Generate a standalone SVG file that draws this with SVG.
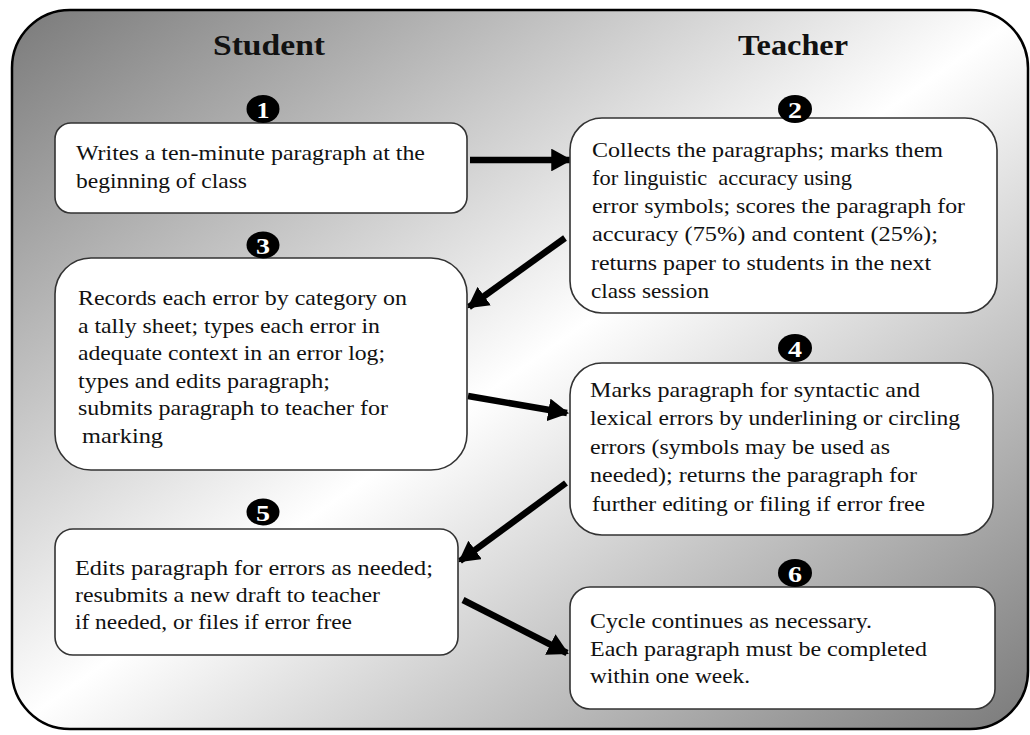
<svg xmlns="http://www.w3.org/2000/svg" width="1030" height="735" viewBox="0 0 1030 735">
<defs>
<linearGradient id="bg" x1="0" y1="0" x2="1" y2="1">
<stop offset="0" stop-color="#7a7a7a"/>
<stop offset="0.5" stop-color="#ffffff"/>
<stop offset="1" stop-color="#7a7a7a"/>
</linearGradient>
<marker id="ah" viewBox="0 0 10 10" refX="9" refY="5" markerWidth="3.2" markerHeight="3.5" orient="auto" markerUnits="strokeWidth" preserveAspectRatio="none">
<path d="M0,0 L10,5 L0,10 z" fill="#000"/>
</marker>
<style>
.box{fill:#fff;stroke:#333;stroke-width:1.6}
.t{font-family:"Liberation Serif","Times New Roman",serif;font-size:21px;fill:#111}
.h{font-family:"Liberation Serif","Times New Roman",serif;font-size:29px;font-weight:bold;fill:#111}
.num{fill:#000}
.nt{font-family:"Liberation Serif","Times New Roman",serif;font-size:24px;font-weight:bold;fill:#fff;text-anchor:middle}
.arr{stroke:#000;stroke-width:6.5;fill:none;marker-end:url(#ah)}
</style>
</defs>
<rect x="12" y="10" width="1016" height="719" rx="58" ry="58" fill="url(#bg)" stroke="#000" stroke-width="2.5"/>
<text class="h" x="213" y="55" textLength="112" lengthAdjust="spacingAndGlyphs">Student</text>
<text class="h" x="738" y="55" textLength="110" lengthAdjust="spacingAndGlyphs">Teacher</text>

<g id="connectors">
<line class="arr" x1="470" y1="160" x2="570" y2="160"/>
<line class="arr" x1="565" y1="238" x2="469" y2="307"/>
<line class="arr" x1="468" y1="396" x2="567" y2="413"/>
<line class="arr" x1="566" y1="483" x2="460" y2="561"/>
<line class="arr" x1="463" y1="600" x2="567" y2="653"/>
</g>

<g id="step1">
<rect class="box" x="55" y="123" width="412" height="90" rx="16"/>
<ellipse class="num" cx="263" cy="109" rx="16.5" ry="14"/>
<text class="nt" x="263" y="117.5" textLength="13" lengthAdjust="spacingAndGlyphs">1</text>
<text class="t" x="76" y="160" textLength="349" lengthAdjust="spacingAndGlyphs">Writes a ten-minute paragraph at the</text>
<text class="t" x="76" y="188" textLength="171" lengthAdjust="spacingAndGlyphs">beginning of class</text>
</g>

<g id="step2">
<rect class="box" x="570" y="118" width="427" height="195" rx="32"/>
<ellipse class="num" cx="795" cy="109" rx="17" ry="14"/>
<text class="nt" x="795" y="117.5" textLength="14" lengthAdjust="spacingAndGlyphs">2</text>
<text class="t" x="592" y="157" textLength="351" lengthAdjust="spacingAndGlyphs">Collects the paragraphs; marks them</text>
<text class="t" x="592" y="185" textLength="260" lengthAdjust="spacingAndGlyphs" xml:space="preserve">for linguistic  accuracy using</text>
<text class="t" x="592" y="213" textLength="373" lengthAdjust="spacingAndGlyphs">error symbols; scores the paragraph for</text>
<text class="t" x="592" y="241" textLength="346" lengthAdjust="spacingAndGlyphs">accuracy (75%) and content (25%);</text>
<text class="t" x="591" y="270" textLength="340" lengthAdjust="spacingAndGlyphs">returns paper to students in the next</text>
<text class="t" x="591" y="298" textLength="118" lengthAdjust="spacingAndGlyphs">class session</text>
</g>

<g id="step3">
<rect class="box" x="55" y="258" width="412" height="212" rx="36"/>
<ellipse class="num" cx="263" cy="245" rx="16.5" ry="13.5"/>
<text class="nt" x="263" y="253.5" textLength="14" lengthAdjust="spacingAndGlyphs">3</text>
<text class="t" x="78" y="305" textLength="329" lengthAdjust="spacingAndGlyphs">Records each error by category on</text>
<text class="t" x="78" y="333" textLength="302" lengthAdjust="spacingAndGlyphs">a tally sheet; types each error in</text>
<text class="t" x="78" y="360" textLength="307" lengthAdjust="spacingAndGlyphs">adequate context in an error log;</text>
<text class="t" x="78" y="388" textLength="252" lengthAdjust="spacingAndGlyphs">types and edits paragraph;</text>
<text class="t" x="78" y="415" textLength="310" lengthAdjust="spacingAndGlyphs">submits paragraph to teacher for</text>
<text class="t" x="82" y="443" textLength="81" lengthAdjust="spacingAndGlyphs">marking</text>
</g>

<g id="step4">
<rect class="box" x="570" y="363" width="423" height="172" rx="32"/>
<ellipse class="num" cx="795" cy="348" rx="17" ry="14"/>
<text class="nt" x="795" y="356.5" textLength="14" lengthAdjust="spacingAndGlyphs">4</text>
<text class="t" x="590" y="397" textLength="330" lengthAdjust="spacingAndGlyphs">Marks paragraph for syntactic and</text>
<text class="t" x="590" y="425" textLength="370" lengthAdjust="spacingAndGlyphs">lexical errors by underlining or circling</text>
<text class="t" x="590" y="454" textLength="300" lengthAdjust="spacingAndGlyphs">errors (symbols may be used as</text>
<text class="t" x="590" y="482" textLength="327" lengthAdjust="spacingAndGlyphs">needed); returns the paragraph for</text>
<text class="t" x="592" y="511" textLength="333" lengthAdjust="spacingAndGlyphs">further editing or filing if error free</text>
</g>

<g id="step5">
<rect class="box" x="55" y="529" width="403" height="126" rx="18"/>
<ellipse class="num" cx="263" cy="512" rx="16.5" ry="13.5"/>
<text class="nt" x="263" y="520.5" textLength="14" lengthAdjust="spacingAndGlyphs">5</text>
<text class="t" x="75" y="575" textLength="358" lengthAdjust="spacingAndGlyphs">Edits paragraph for errors as needed;</text>
<text class="t" x="75" y="602" textLength="305" lengthAdjust="spacingAndGlyphs">resubmits a new draft to teacher</text>
<text class="t" x="75" y="629" textLength="277" lengthAdjust="spacingAndGlyphs">if needed, or files if error free</text>
</g>

<g id="step6">
<rect class="box" x="570" y="587" width="425" height="122" rx="20"/>
<ellipse class="num" cx="795" cy="573" rx="17" ry="14"/>
<text class="nt" x="795" y="581.5" textLength="14" lengthAdjust="spacingAndGlyphs">6</text>
<text class="t" x="590" y="628" textLength="282" lengthAdjust="spacingAndGlyphs">Cycle continues as necessary.</text>
<text class="t" x="590" y="656" textLength="337" lengthAdjust="spacingAndGlyphs">Each paragraph must be completed</text>
<text class="t" x="590" y="683" textLength="160" lengthAdjust="spacingAndGlyphs">within one week.</text>
</g>
</svg>
